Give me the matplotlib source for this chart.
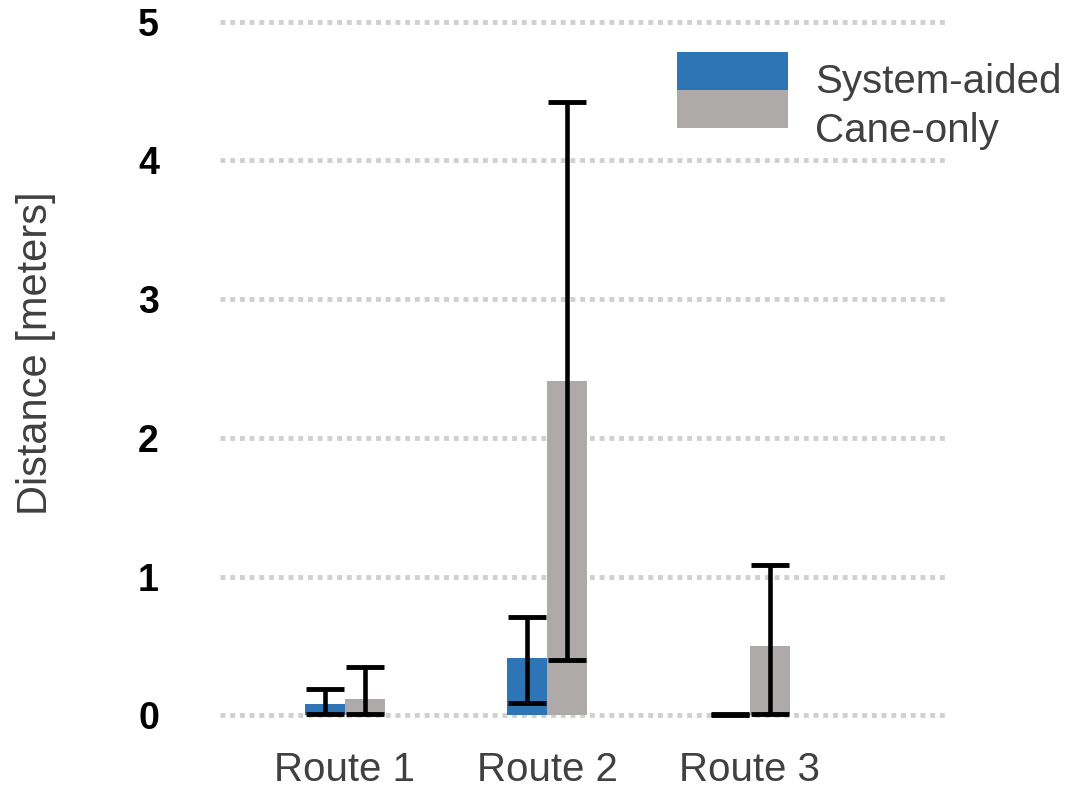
import numpy as np
import matplotlib
matplotlib.use("Agg")
from matplotlib import pyplot as plt
from matplotlib.patches import Rectangle

routes = ["Route 1", "Route 2", "Route 3"]
series = ["System-aided", "Cane-only"]
# mean distance [m]
system_mean = [0.08, 0.41, 0.0]
cane_mean = [0.12, 2.41, 0.50]
# error bar extents (lower end, upper end)
system_lo = [0.01, 0.09, 0.01]
system_hi = [0.19, 0.71, 0.01]
cane_lo = [0.01, 0.40, 0.01]
cane_hi = [0.35, 4.42, 1.08]

blue = "#2E75B6"
grey = "#AEAAAA"
txt = "#404040"

plt.rcParams['font.family'] = ['Liberation Sans', 'DejaVu Sans']

W, H = 1083, 791
fig = plt.figure(figsize=(W/100, H/100), dpi=100)
ax = fig.add_axes([220/W, 1-718/H, (948-220)/W, (718-19)/H])

x = np.arange(len(routes))
w = 0.197

for off, mean, lo, hi, col in [(-w/2, system_mean, system_lo, system_hi, blue),
                               (w/2, cane_mean, cane_lo, cane_hi, grey)]:
    mean = np.array(mean)
    ax.bar(x + off, mean, width=w, color=col, zorder=2)
    err = [mean - np.array(lo), np.array(hi) - mean]
    err = np.clip(err, 0, None)
    ax.errorbar(x + off, mean, yerr=err, fmt="none", ecolor="black",
                elinewidth=3.3, capsize=13.5, capthick=3.5, zorder=3)

for yv in range(6):
    ax.axhline(yv, color="#D0D0D0", lw=3.5, ls=(0, (1, 1)), zorder=1, clip_on=False)

ax.set_xlim(-0.617, 2.98)
ax.set_ylim(-0.02, 5.02)
ax.set_yticks(range(6))
ax.set_yticklabels([str(v) for v in range(6)], fontweight="bold", fontsize=27)
ax.set_xticks(x)
ax.set_xticklabels(routes, fontsize=29, color=txt)
ax.tick_params(axis="y", length=0, pad=44)
ax.tick_params(axis="x", length=0, pad=24)
for s in ax.spines.values():
    s.set_visible(False)
ax.set_ylabel("Distance [meters]", fontsize=30, color=txt)
ax.yaxis.set_label_coords((56-220)/728, (718-353)/699)

# legend: two stacked swatches, labels to the right
for i, (name, col) in enumerate(zip(series, [blue, grey])):
    fig.patches.append(Rectangle((677/W, 1-(90+38*i)/H), 111/W, 38/H,
                                 transform=fig.transFigure, facecolor=col,
                                 edgecolor="none"))
    fig.text(815/W, 1-(93+49*i)/H, name, fontsize=29, color=txt,
             ha="left", va="baseline")

fig.savefig("out.png", dpi=100)
